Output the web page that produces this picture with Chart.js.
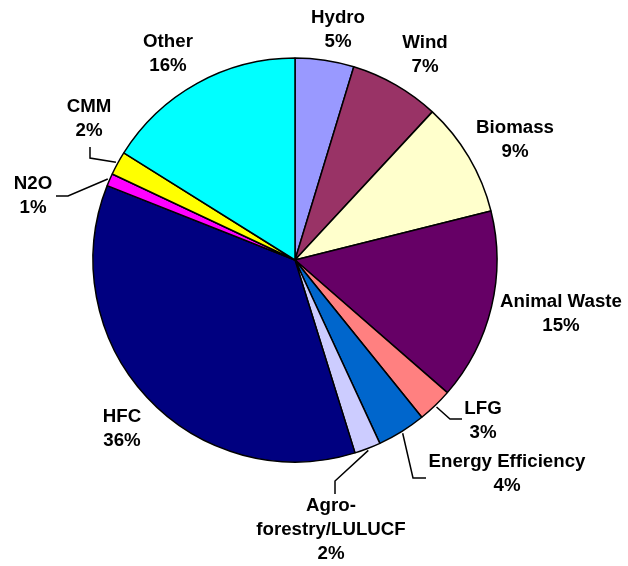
<!DOCTYPE html>
<html>
<head>
<meta charset="utf-8">
<script src="https://cdn.jsdelivr.net/npm/chart.js@4"></script>
<style>
  html, body { margin: 0; padding: 0; background: #fff; }
  #wrap { width: 628px; height: 566px; }
</style>
</head>
<body>
<div id="wrap"><canvas id="pie" width="628" height="566"></canvas></div>
<script>
// project share by type, clockwise from 12 o'clock
const categories = ['Hydro', 'Wind', 'Biomass', 'Animal Waste', 'LFG', 'Energy Efficiency',
  'Agro-forestry/LULUCF', 'HFC', 'N2O', 'CMM', 'Other'];
const shares = [4.7, 7.2, 9.2, 15.3, 2.8, 3.9, 2.1, 35.8, 1.0, 1.9, 16.1];
const labelLines = [['Hydro'], ['Wind'], ['Biomass'], ['Animal Waste'], ['LFG'], ['Energy Efficiency'],
  ['Agro-', 'forestry/LULUCF'], ['HFC'], ['N2O'], ['CMM'], ['Other']];
const sliceColors = ['#9999FF', '#993366', '#FFFFCC', '#660066', '#FF8080', '#0066CC',
  '#CCCCFF', '#000080', '#FF00FF', '#FFFF00', '#00FFFF'];

// label block centre, offset from pie centre; leader = [elbow, end] offsets
const labelPos = [
  { dx: 43, dy: -230 },
  { dx: 130, dy: -205 },
  { dx: 220, dy: -120 },
  { dx: 266, dy: 54 },
  { dx: 188, dy: 161, leader: [[155, 159], [167, 159]] },
  { dx: 212, dy: 214, leader: [[118, 218], [131, 218]] },
  { dx: 36, dy: 270, leader: [[40, 221], [40, 234]] },
  { dx: -173, dy: 169 },
  { dx: -262, dy: -64, leader: [[-227, -64], [-239, -64]] },
  { dx: -206, dy: -141, leader: [[-205, -102], [-205, -113]] },
  { dx: -127, dy: -206 }
];

const lineH = 24;

const outsideLabels = {
  id: 'outsideLabels',
  afterDatasetsDraw(chart) {
    const ctx = chart.ctx;
    const arcs = chart.getDatasetMeta(0).data;
    ctx.save();
    ctx.font = 'bold 18.7px "Liberation Sans", Arial, sans-serif';
    ctx.fillStyle = '#000';
    ctx.strokeStyle = '#000';
    ctx.lineWidth = 1.5;
    ctx.textAlign = 'center';
    ctx.textBaseline = 'middle';
    arcs.forEach((arc, i) => {
      const p = arc.getProps(['x', 'y', 'startAngle', 'endAngle', 'outerRadius'], true);
      const pos = labelPos[i];
      if (pos.leader) {
        const mid = (p.startAngle + p.endAngle) / 2;
        const r = p.outerRadius + 2;
        ctx.beginPath();
        ctx.moveTo(p.x + Math.cos(mid) * r, p.y + Math.sin(mid) * r);
        pos.leader.forEach(pt => ctx.lineTo(p.x + pt[0], p.y + pt[1]));
        ctx.stroke();
      }
      const lines = labelLines[i].concat([Math.round(shares[i]) + '%']);
      const top = p.y + pos.dy - (lines.length - 1) * lineH / 2;
      lines.forEach((t, k) => ctx.fillText(t, p.x + pos.dx, top + k * lineH));
    });
    ctx.restore();
  }
};

new Chart(document.getElementById('pie'), {
  type: 'pie',
  data: {
    labels: categories,
    datasets: [{
      data: shares,
      backgroundColor: sliceColors,
      borderColor: '#000',
      borderWidth: 1.5,
      hoverOffset: 0
    }]
  },
  options: {
    responsive: false,
    animation: false,
    radius: 202,
    layout: { padding: { left: 60, right: 98, top: 20, bottom: 66 } },
    plugins: { legend: { display: false }, tooltip: { enabled: false } }
  },
  plugins: [outsideLabels]
});
</script>
</body>
</html>
